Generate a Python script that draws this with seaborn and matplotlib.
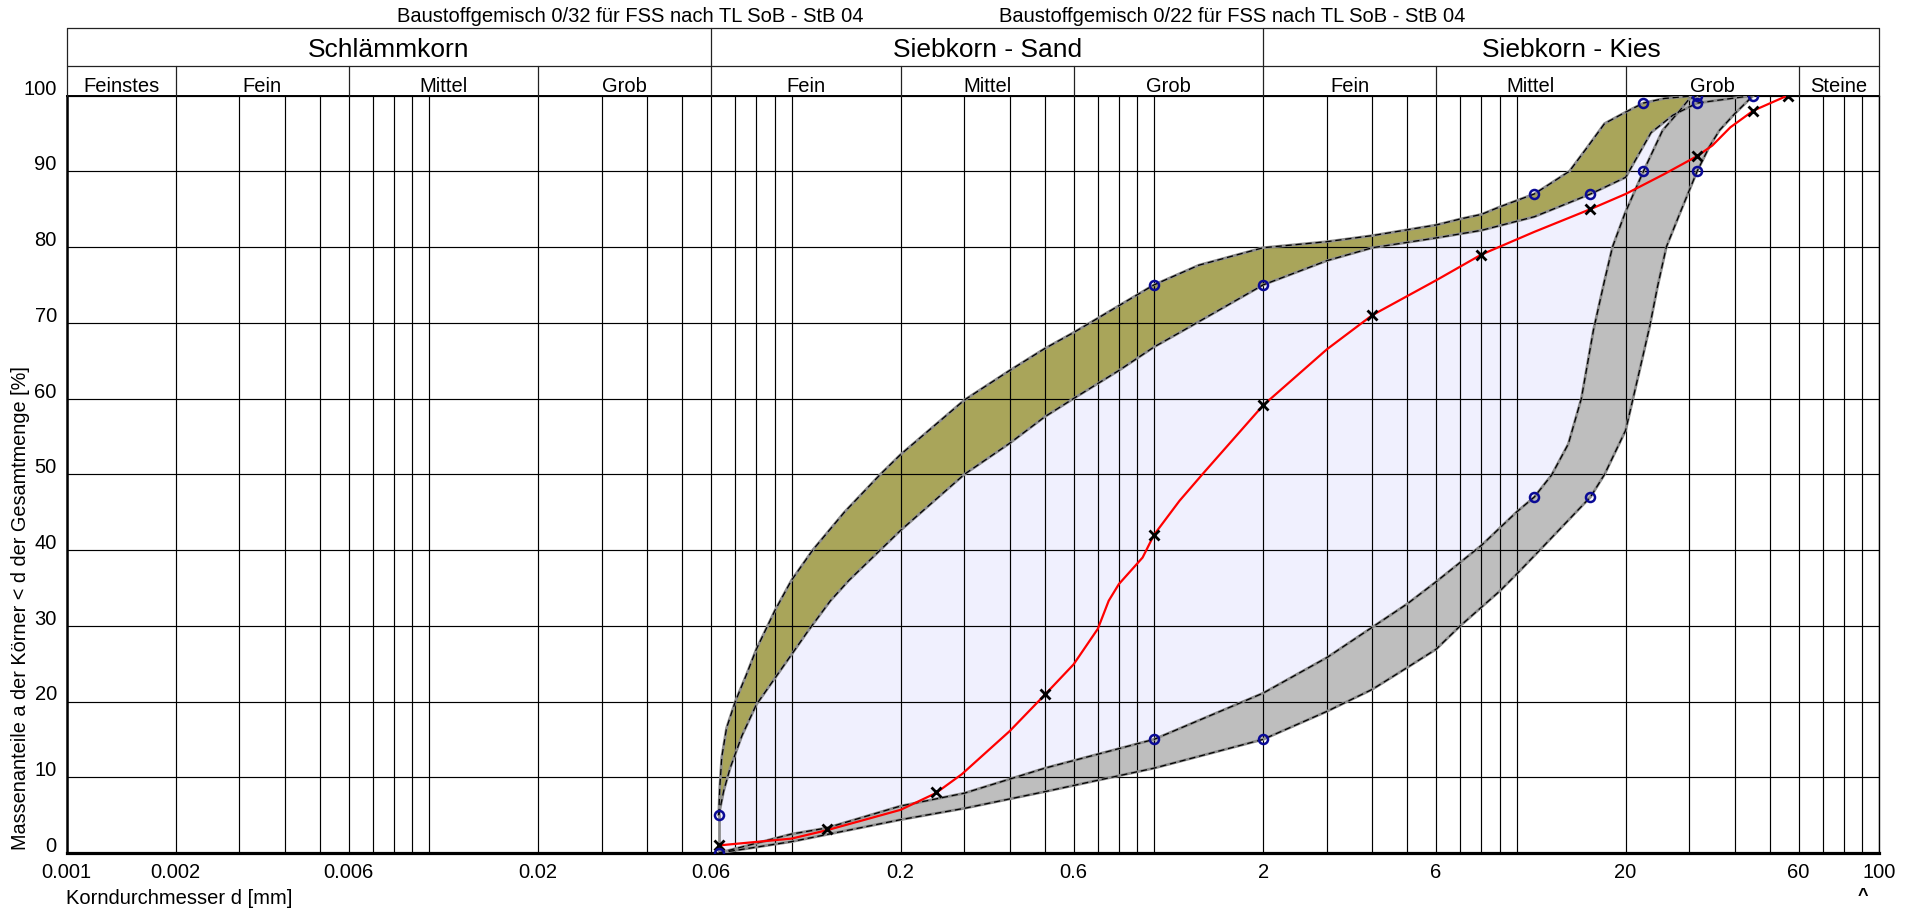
import numpy as np
import pandas as pd
import matplotlib
matplotlib.use("Agg")
import matplotlib.pyplot as plt
import seaborn as sns
from matplotlib.ticker import FixedLocator, FixedFormatter, NullFormatter
from matplotlib.transforms import ScaledTranslation, blended_transform_factory

# ---------------- data ----------------
title_left = "Baustoffgemisch 0/32 für FSS nach TL SoB - StB 04"
title_right = "Baustoffgemisch 0/22 für FSS nach TL SoB - StB 04"

group_labels = ["Schlämmkorn", "Siebkorn - Sand", "Siebkorn - Kies"]
group_bounds = [0.001, 0.06, 2, 100]
class_labels = ["Feinstes", "Fein", "Mittel", "Grob", "Fein", "Mittel", "Grob",
                "Fein", "Mittel", "Grob", "Steine"]
class_bounds = [0.001, 0.002, 0.006, 0.02, 0.06, 0.2, 0.6, 2, 6, 20, 60, 100]

x_tick_values = [0.001, 0.002, 0.006, 0.02, 0.06, 0.2, 0.6, 2, 6, 20, 60, 100]
x_tick_labels = ["0.001", "0.002", "0.006", "0.02", "0.06", "0.2", "0.6",
                 "2", "6", "20", "60", "100"]
y_tick_values = [0, 10, 20, 30, 40, 50, 60, 70, 80, 90, 100]

# upper limit 0/22 (top edge of olive band)
upper_022_d = [0.063, 0.0634, 0.0642, 0.0662, 0.07, 0.0752, 0.08, 0.09, 0.1, 0.1145, 0.14,
               0.176, 0.2, 0.3, 0.4, 0.5, 0.6, 0.7, 1.0, 1.33, 2, 3, 4, 6, 7, 8, 9, 11.2,
               14.0, 15.7, 17.5, 20, 22.4, 25.5, 31.5]
upper_022_y = [5, 8.6, 12.6, 16.5, 20.0, 23.6, 26.9, 32.0, 36.0, 40, 45.0,
               50, 52.6, 59.8, 63.7, 66.6, 68.7, 70.6, 75, 77.6, 79.9, 80.7, 81.5, 82.9, 83.7,
               84.3, 85.3, 87, 90, 93.2, 96.3, 97.8, 99, 99.6, 100]

# upper limit 0/32 (bottom edge of olive band)
upper_032_d = [0.063, 0.065, 0.0677, 0.073, 0.08, 0.1, 0.111, 0.128, 0.144, 0.2, 0.3, 0.4,
               0.5, 0.6, 0.8, 1.0, 1.176, 2, 3, 4, 6, 8, 11.2, 16, 20, 23.5, 27, 31.5, 45]
upper_032_y = [5, 8.2, 11.2, 15.5, 19.6, 26.2, 29.3, 33.3, 36, 42.6, 50, 54.1,
               57.6, 60, 63.7, 66.8, 68.7, 75, 78.2, 79.9, 81.2, 82.2, 84.0, 87, 89.2, 95.1,
               97.4, 99, 100]

# lower limit 0/22 (top edge of grey band)
lower_022_d = [0.063, 0.1, 0.125, 0.2, 0.3, 0.5, 1.0, 2, 3, 4, 5, 6, 8, 10, 11.2,
               12.5, 13.9, 15.1, 16.3, 17.5, 18.4, 19.9, 22.4, 25.3, 28.2, 29.9, 31.5]
lower_022_y = [0, 2.5, 3.3, 6.2, 7.9, 11.2, 15, 21.1, 25.8, 29.8, 32.9, 35.8, 40.6, 45, 47,
               49.9, 54, 60, 69, 75.6, 80, 84.4, 90, 95.4, 98, 99.5, 100]

# lower limit 0/32 (bottom edge of grey band)
lower_032_d = [0.063, 0.1, 0.2, 0.3, 0.5, 1.0, 2, 3, 4, 5, 6, 7, 9, 10, 11.6, 16,
               17.5, 20, 21.8, 23.3, 24.5, 25.9, 28.2, 31.5, 34.0, 36.3, 40, 45]
lower_032_y = [0, 1.5, 4.4, 5.9, 8.1, 11.2, 15, 18.7, 21.6, 24.5, 26.9, 30, 34.6, 36.8, 40, 47,
               50, 55.8, 63.5, 69.5, 74.8, 80, 84.4, 90, 93.2, 95.4, 97.6, 100]

# left closing edge of the envelope at 0.063 mm
left_edge_d = [0.063, 0.063]
left_edge_y = [0, 5]

# limit points (blue circles)
limit_pts_d = [0.063, 1, 11.2, 22.4, 31.5, 2, 16, 31.5, 45,
               0.063, 1, 11.2, 22.4, 2, 16, 31.5]
limit_pts_y = [5, 75, 87, 99, 100, 75, 87, 99, 100,
               0, 15, 47, 90, 15, 47, 90]

# grading curve (red line) and its sieve points
curve_d = [0.063, 0.1, 0.125, 0.2, 0.25, 0.295, 0.4, 0.5, 0.6, 0.7, 0.75, 0.8, 0.93,
           1.0, 1.176, 1.36, 2, 3, 4, 6, 8, 11.2, 16, 20, 25.5, 31.5, 34.7, 38.9, 45, 56]
curve_y = [1.0, 1.9, 3.0, 5.7, 7.9, 10.4, 16.1, 20.9, 24.9, 29.6, 33.3, 35.5, 39,
           42, 46.5, 50, 59.1, 66.5, 71, 75.6, 79, 82, 85, 87, 89.6, 92, 93.4, 95.8, 98, 100]
sieve_d = [0.063, 0.125, 0.25, 0.5, 1, 2, 4, 8, 16, 31.5, 45, 56]
sieve_y = [1.0, 3.2, 8.0, 21.0, 42.0, 59.1, 71.0, 79.0, 85.0, 92.0, 98.0, 100]

# ---------------- style ----------------
sns.set_theme(style="white")
plt.rcParams["font.family"] = ["Liberation Sans", "DejaVu Sans"]

W, H = 1907, 908
L, R, B, T = 66.5, 1879.0, 853.0, 95.5
fig = plt.figure(figsize=(W / 100, H / 100), dpi=100)
ax = fig.add_axes([L / W, 1 - B / H, (R - L) / W, (B - T) / H])
ax.set_xscale("log")
ax.set_xlim(class_bounds[0], class_bounds[-1])
ax.set_ylim(y_tick_values[0], y_tick_values[-1])

OLIVE = "#A9A55A"
GREY = "#BEBEBE"
LAV = "#F0F0FE"
EDGE = "#8C8C8C"

# fills
ax.fill(np.concatenate([upper_022_d, lower_032_d[::-1]]),
        np.concatenate([upper_022_y, lower_032_y[::-1]]),
        color=LAV, lw=0, zorder=1)
ax.fill(np.concatenate([upper_022_d, upper_032_d[::-1]]),
        np.concatenate([upper_022_y, upper_032_y[::-1]]),
        color=OLIVE, lw=0, zorder=1.1)
ax.fill(np.concatenate([lower_022_d, lower_032_d[::-1]]),
        np.concatenate([lower_022_y, lower_032_y[::-1]]),
        color=GREY, lw=0, zorder=1.2)

# limit curves: grey solid underlay + black dashes
for cd, cy in [(upper_022_d, upper_022_y), (upper_032_d, upper_032_y),
               (lower_022_d, lower_022_y), (lower_032_d, lower_032_y)]:
    df = pd.DataFrame({"d": cd, "p": cy})
    sns.lineplot(data=df, x="d", y="p", ax=ax, estimator=None, sort=False,
                 color=EDGE, lw=2.0, zorder=3, legend=False,
                 solid_joinstyle="round", solid_capstyle="round")
    sns.lineplot(data=df, x="d", y="p", ax=ax, estimator=None, sort=False,
                 color="black", lw=0.9, linestyle=(0, (5, 3)), zorder=3.1, legend=False,
                 dash_joinstyle="round")

sns.lineplot(x=left_edge_d, y=left_edge_y, ax=ax, estimator=None, sort=False,
             color=EDGE, lw=2.0, zorder=3, legend=False)

# grading curve
sns.lineplot(x=curve_d, y=curve_y, ax=ax, estimator=None, sort=False,
             color="#FF0000", lw=1.6, zorder=4, legend=False,
             solid_joinstyle="round")
sns.lineplot(x=sieve_d, y=sieve_y, ax=ax, estimator=None, sort=False,
             linestyle="none", marker="x", markersize=7, markeredgewidth=2.0,
             markeredgecolor="black", color="black", zorder=5, legend=False)

# limit points
sns.lineplot(x=limit_pts_d, y=limit_pts_y, ax=ax, estimator=None, sort=False,
             linestyle="none", marker="o", markersize=6.5, markeredgewidth=1.8,
             markerfacecolor="none", markeredgecolor="#0A0A96", color="#0A0A96",
             zorder=6, legend=False)

# ---------------- axes / grid ----------------
minor_grid = [m * 10.0 ** e for e in range(-3, 2) for m in range(1, 10)]
ax.xaxis.set_major_locator(FixedLocator(x_tick_values))
ax.xaxis.set_major_formatter(FixedFormatter(x_tick_labels))
ax.xaxis.set_minor_locator(FixedLocator(minor_grid))
ax.xaxis.set_minor_formatter(NullFormatter())
ax.set_yticks(y_tick_values)
ax.set_yticklabels([str(v) for v in y_tick_values])
ax.set_axisbelow(False)
ax.grid(True, which="both", axis="both", color="black", lw=0.85)
ax.tick_params(axis="both", which="both", length=0, labelsize=14.5, colors="black")
ax.tick_params(axis="x", pad=7)
ax.tick_params(axis="y", pad=7)
for tk in ax.yaxis.get_major_ticks():
    tk.label1.set_transform(tk.label1.get_transform() +
                            ScaledTranslation(0, 0.085, fig.dpi_scale_trans))

for side, lw in [("left", 1.8), ("bottom", 2.3), ("right", 1.0), ("top", 1.4)]:
    ax.spines[side].set_visible(True)
    ax.spines[side].set_color("black")
    ax.spines[side].set_linewidth(lw)

ax.set_xlabel("Korndurchmesser d [mm]", fontsize=14.5, color="black")
ax.xaxis.set_label_coords(0.0, -(898 - B) / (B - T))
ax.xaxis.label.set_ha("left")
ax.xaxis.label.set_va("center")

ax.set_ylabel("Massenanteile a der Körner < d der Gesamtmenge [%]", fontsize=14.3, color="black")
ax.yaxis.set_label_coords((20 - L) / (R - L), (B - 850) / (B - T))
ax.yaxis.label.set_ha("left")
ax.yaxis.label.set_va("center")

# ---------------- header table ----------------
tr = blended_transform_factory(ax.transData, ax.transAxes)
y_row = 1 + (T - 65.7) / (B - T)
y_top = 1 + (T - 27.7) / (B - T)
hdr = dict(transform=tr, clip_on=False, color="#222222", lw=0.9, zorder=7)
ax.plot([class_bounds[0], class_bounds[-1]], [y_top, y_top], **hdr)
ax.plot([class_bounds[0], class_bounds[-1]], [y_row, y_row], **hdr)
ax.plot([class_bounds[0], class_bounds[0]], [1, y_top], **hdr)
ax.plot([class_bounds[-1], class_bounds[-1]], [1, y_top], **hdr)
for b in group_bounds[1:-1]:
    ax.plot([b, b], [y_row, y_top], **hdr)
for b in class_bounds[1:-1]:
    ax.plot([b, b], [1, y_row], **hdr)

for lab, a, b in zip(group_labels, group_bounds[:-1], group_bounds[1:]):
    ax.text(np.sqrt(a * b), 1 + (T - 56.5) / (B - T), lab, transform=tr,
            ha="center", va="baseline", fontsize=19, color="black", clip_on=False)
for lab, a, b in zip(class_labels, class_bounds[:-1], class_bounds[1:]):
    ax.text(np.sqrt(a * b), 1 + (T - 91.5) / (B - T), lab, transform=tr,
            ha="center", va="baseline", fontsize=14.5, color="black", clip_on=False)

y_title = 1 + (T - 22.0) / (B - T)
ax.text((630 - L) / (R - L), y_title, title_left, transform=ax.transAxes,
        ha="center", va="baseline", fontsize=14.5, color="black", clip_on=False)
ax.text((1232 - L) / (R - L), y_title, title_right, transform=ax.transAxes,
        ha="center", va="baseline", fontsize=14.5, color="black", clip_on=False)

fig.text(1863 / W, 1 - 897 / H, "^", ha="center", va="center", fontsize=13,
         fontweight="bold", color="black")

fig.savefig("out.png", dpi=100, facecolor="white")
